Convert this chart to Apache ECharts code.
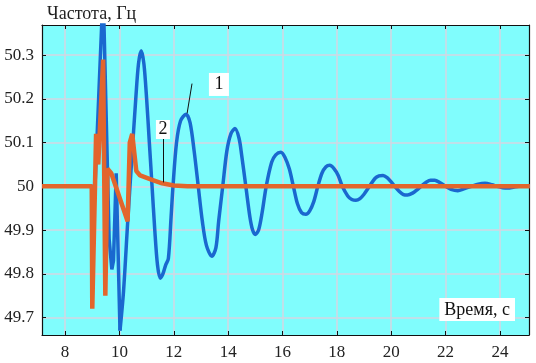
<!DOCTYPE html>
<html><head><meta charset="utf-8">
<script src="https://cdn.jsdelivr.net/npm/echarts@6/dist/echarts.min.js"></script>
<style>html,body{margin:0;padding:0;background:#fff}#c{width:536px;height:363px}</style>
</head><body><div id="c"></div>
<script>
// tick values
const xTicks = [8, 10, 12, 14, 16, 18, 20, 22, 24];
const yTicks = [49.7, 49.8, 49.9, 50, 50.1, 50.2, 50.3];

// Curve 1 (blue): transient part
const blueTransTime = [7.15, 8.0, 9.0, 9.1, 9.4, 9.62, 9.72, 9.78, 9.88, 10.02];
const blueTransFreq = [50.0, 50.0, 50.0, 50.0, 50.45, 49.88, 49.81, 49.83, 50.03, 49.67];

// Curve 1 (blue): damped oscillation
const blueOscTime = [10.02, 10.15, 10.3, 10.45, 10.6, 10.7, 10.8, 10.9, 11.0, 11.1, 11.2, 11.3, 11.4, 11.5, 11.6, 11.7, 11.8, 11.9, 11.97,
  12.1, 12.25, 12.45, 12.6, 12.75, 12.9, 13.05, 13.2, 13.4, 13.55, 13.65, 13.8, 13.95, 14.1, 14.25, 14.4, 14.5, 14.65,
  14.8, 14.9, 15.0, 15.12, 15.25, 15.4, 15.6, 15.75, 15.94, 16.1, 16.25, 16.4, 16.55, 16.7, 16.86, 17.0, 17.15, 17.3,
  17.45, 17.6, 17.74, 17.9, 18.05, 18.2, 18.4, 18.55, 18.7, 18.85, 19.0, 19.2, 19.4, 19.55, 19.7, 19.85, 20.0, 20.13,
  20.3, 20.45, 20.6, 20.8, 20.95, 21.1, 21.3, 21.45, 21.6, 21.8, 22.0, 22.2, 22.45, 22.7, 22.95, 23.2, 23.45, 23.7,
  23.9, 24.1, 24.3, 24.5, 24.7, 25.1];
const blueOscFreq = [49.67, 49.76, 49.915, 50.06, 50.2, 50.28, 50.31, 50.28, 50.2, 50.1, 50.0, 49.9, 49.82, 49.79, 49.8, 49.82, 49.835, 49.93, 50.0,
  50.1, 50.15, 50.165, 50.145, 50.08, 50.0, 49.92, 49.865, 49.84, 49.86, 49.92, 50.0, 50.08, 50.12, 50.132, 50.11, 50.07, 50.0,
  49.93, 49.9, 49.89, 49.9, 49.94, 50.0, 50.055, 50.072, 50.078, 50.065, 50.04, 50.0, 49.96, 49.94, 49.936, 49.944, 49.965, 50.0,
  50.03, 50.045, 50.048, 50.04, 50.025, 50.0, 49.978, 49.97, 49.968, 49.972, 49.982, 50.0, 50.018, 50.024, 50.025, 50.02, 50.01, 50.0,
  49.988, 49.981, 49.98, 49.985, 49.992, 50.0, 50.01, 50.014, 50.014, 50.008, 50.0, 49.993, 49.99, 49.995, 50.0, 50.005, 50.007, 50.004,
  50.0, 49.997, 49.996, 49.998, 50.0, 50.0];

// Curve 2 (orange)
const orangeTime = [7.15, 8.0, 8.98, 9.0, 9.05, 9.1, 9.14, 9.22, 9.4, 9.48, 9.52, 9.56, 9.7, 10.3, 10.38, 10.47, 10.62, 10.76, 11.2, 11.57, 12.0, 12.5, 25.1];
const orangeFreq = [50.0, 50.0, 50.0, 49.72, 49.72, 50.0, 50.12, 50.05, 50.29, 49.75, 49.75, 50.04, 50.03, 49.92, 50.10, 50.12, 50.035, 50.025, 50.015, 50.007, 50.002, 50.0, 50.0];

const zip = (a, b) => a.map((v, i) => [v, b[i]]);
const serif = '"Liberation Serif", "DejaVu Serif", serif';
const X_MIN = 7.15, X_MAX = 25.07, Y_MIN = 49.66, Y_MAX = 50.369;
const BLUE = '#1a68cf', ORANGE = '#e2652c';

const chart = echarts.init(document.getElementById('c'), null, {renderer: 'canvas'});
const baseX = {
  type: 'value', min: X_MIN, max: X_MAX,
  axisLine: {show: true, onZero: false, lineStyle: {color: '#111', width: 1.2}},
  axisTick: {show: true, inside: true, length: 4, customValues: xTicks, lineStyle: {color: '#111'}},
  axisLabel: {show: true, customValues: xTicks, color: '#222', fontFamily: serif, fontSize: 17, margin: 9},
  splitLine: {show: true, lineStyle: {color: '#d4d6e2', width: 1.5}}
};
const baseY = {
  type: 'value', min: Y_MIN, max: Y_MAX,
  axisLine: {show: true, onZero: false, lineStyle: {color: '#111', width: 1.2}},
  axisTick: {show: true, inside: true, length: 4, customValues: yTicks, lineStyle: {color: '#111'}},
  axisLabel: {show: true, customValues: yTicks, color: '#222', fontFamily: serif, fontSize: 17, margin: 8,
    formatter: v => String(Math.round(v * 10) / 10)},
  splitLine: {show: true, lineStyle: {color: '#d4d6e2', width: 1.5}}
};
chart.setOption({
  animation: false,
  title: {text: 'Частота, Гц', left: 42, top: 0, textStyle: {fontFamily: serif, fontSize: 18, fontWeight: 'normal', color: '#222'}},
  grid: {left: 42, right: 7, top: 25, bottom: 28, show: true, backgroundColor: '#80fdfd', borderWidth: 0},
  xAxis: [
    baseX,
    Object.assign({}, baseX, {position: 'top', axisLabel: {show: false}, splitLine: {show: false}})
  ],
  yAxis: [
    baseY,
    Object.assign({}, baseY, {position: 'right', axisLabel: {show: false}, splitLine: {show: false}})
  ],
  graphic: [{
    type: 'text', right: 21, top: 298, z: 100,
    style: {text: 'Время, с', font: '18px ' + serif, fill: '#111', backgroundColor: '#fff', padding: [3, 5, 2, 5]}
  }],
  series: [
    {type: 'line', data: zip(blueTransTime, blueTransFreq), showSymbol: false, symbol: 'none', clip: true,
      lineStyle: {color: BLUE, width: 3.5}, z: 2},
    {type: 'line', data: zip(blueOscTime, blueOscFreq), showSymbol: false, symbol: 'none', smooth: 0.3, clip: true,
      lineStyle: {color: BLUE, width: 3.5}, z: 2,
      markLine: {silent: true, symbol: 'none', lineStyle: {color: '#111', width: 1, type: 'solid'}, label: {show: false},
        data: [[{coord: [12.67, 50.235]}, {coord: [12.49, 50.167]}]]},
      markPoint: {symbol: 'rect', symbolSize: [20, 23], itemStyle: {color: '#fff'},
        label: {show: true, formatter: '1', color: '#111', fontFamily: serif, fontSize: 18},
        data: [{coord: [13.66, 50.233]}]}
    },
    {type: 'line', data: zip(orangeTime, orangeFreq), showSymbol: false, symbol: 'none', clip: true,
      lineStyle: {color: ORANGE, width: 4.5}, z: 3,
      markLine: {silent: true, symbol: 'none', lineStyle: {color: '#111', width: 1, type: 'solid'}, label: {show: false},
        data: [[{coord: [11.6, 50.11]}, {coord: [11.6, 50.009]}]]},
      markPoint: {symbol: 'rect', symbolSize: [14, 19], itemStyle: {color: '#fff'},
        label: {show: true, formatter: '2', color: '#111', fontFamily: serif, fontSize: 18},
        data: [{coord: [11.6, 50.13]}]}
    }
  ]
});
</script></body></html>
